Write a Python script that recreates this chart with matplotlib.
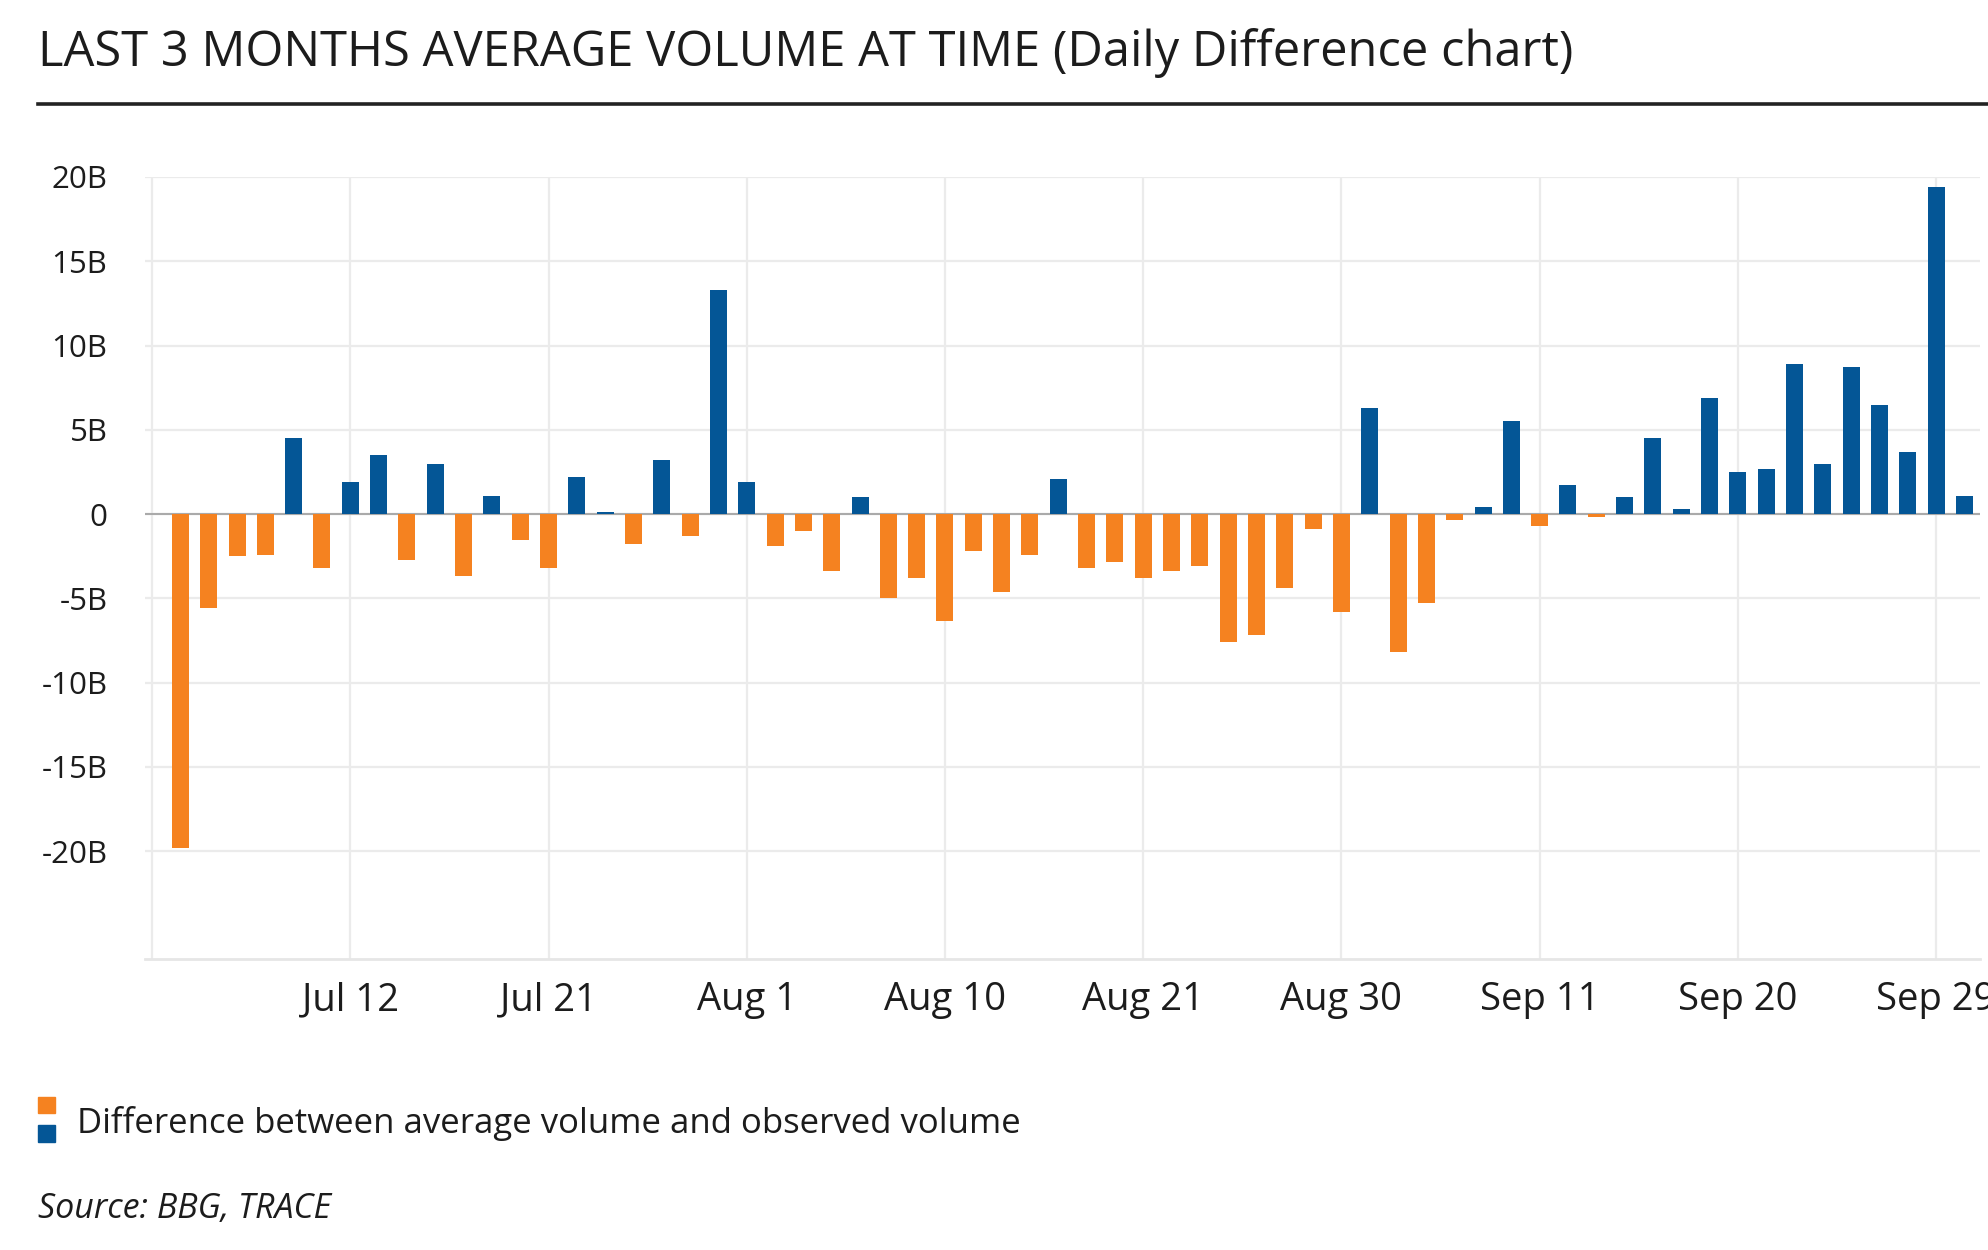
import numpy as np
import matplotlib.pyplot as plt
from matplotlib.patches import Rectangle
from matplotlib.lines import Line2D

""" Data (billions) """
diff = [-19.8, -5.6, -2.5, -2.4, 4.5, -3.2, 1.9, 3.5, -2.7, 3.0,
        -3.7, 1.1, -1.55, -3.2, 2.2, 0.1, -1.8, 3.2, -1.3, 13.3,
        1.9, -1.9, -1.0, -3.4, 1.0, -5.0, -3.8, -6.35, -2.2, -4.6,
        -2.4, 2.1, -3.2, -2.85, -3.8, -3.4, -3.1, -7.6, -7.2, -4.4,
        -0.9, -5.8, 6.3, -8.2, -5.3, -0.35, 0.4, 5.5, -0.7, 1.7,
        -0.2, 1.0, 4.5, 0.3, 6.9, 2.5, 2.65, 8.9, 3.0, 8.75,
        6.45, 3.7, 19.4, 1.1]
tick_labels = ["", "Jul 12", "Jul 21", "Aug 1", "Aug 10", "Aug 21",
               "Aug 30", "Sep 11", "Sep 20", "Sep 29"]
y_ticks = [-20, -15, -10, -5, 0, 5, 10, 15, 20]

ORANGE = "#F58220"
BLUE = "#045696"
TEXT = "#1c1c1c"

plt.rcParams['font.family'] = ['Open Sans', 'DejaVu Sans']

W, H = 1988, 1250
fig = plt.figure(figsize=(W / 100, H / 100), dpi=100)

def fx(px):
    return px / W

def fy(py):
    return 1 - py / H

ax = fig.add_axes([fx(145), fy(959), fx(1980) - fx(145), fy(177) - fy(959)])

x = np.arange(len(diff))
vals = np.array(diff)
colors = [BLUE if v >= 0 else ORANGE for v in vals]
ax.bar(x, vals, width=0.6, color=colors, zorder=3)

ax.set_xlim(-1.25, 63.55)
ax.set_ylim(-26.4, 20)

ax.set_yticks(y_ticks)
ax.set_yticklabels([f"{t}B" if t != 0 else "0" for t in y_ticks])
ax.set_xticks(np.arange(-1, len(diff), 7)[:len(tick_labels)])
ax.set_xticklabels(tick_labels)

ax.tick_params(axis='y', length=0, pad=27, labelsize=22.5, labelcolor=TEXT)
ax.tick_params(axis='x', length=0, pad=16, labelsize=27.5, labelcolor=TEXT)

ax.grid(True, color="#ebebeb", linewidth=1.6, zorder=0)
for s in ["top", "right", "left"]:
    ax.spines[s].set_visible(False)
ax.spines["bottom"].set_color("#e6e6e6")
ax.spines["bottom"].set_linewidth(2)
ax.axhline(0, color="#aaaaaa", linewidth=1.5, zorder=2)

# title and rule
fig.text(fx(38), fy(65.7), "LAST 3 MONTHS AVERAGE VOLUME AT TIME (Daily Difference chart)",
         fontsize=35.2, color=TEXT, va="baseline", ha="left")
fig.add_artist(Line2D([fx(38), 1], [fy(103.5), fy(103.5)], color="#222222", linewidth=2.6))

# legend
fig.add_artist(Rectangle((fx(38), fy(1113)), fx(55) - fx(38), fy(1097) - fy(1113),
                         color=ORANGE, transform=fig.transFigure))
fig.add_artist(Rectangle((fx(38), fy(1141.5)), fx(55) - fx(38), fy(1125) - fy(1141.5),
                         color=BLUE, transform=fig.transFigure))
fig.text(fx(77), fy(1132.7), "Difference between average volume and observed volume",
         fontsize=25, color=TEXT, va="baseline", ha="left")

fig.text(fx(38), fy(1218), "Source: BBG, TRACE", fontsize=24.5, style="italic",
         color=TEXT, va="baseline", ha="left")

fig.savefig("out.png", dpi=100)
